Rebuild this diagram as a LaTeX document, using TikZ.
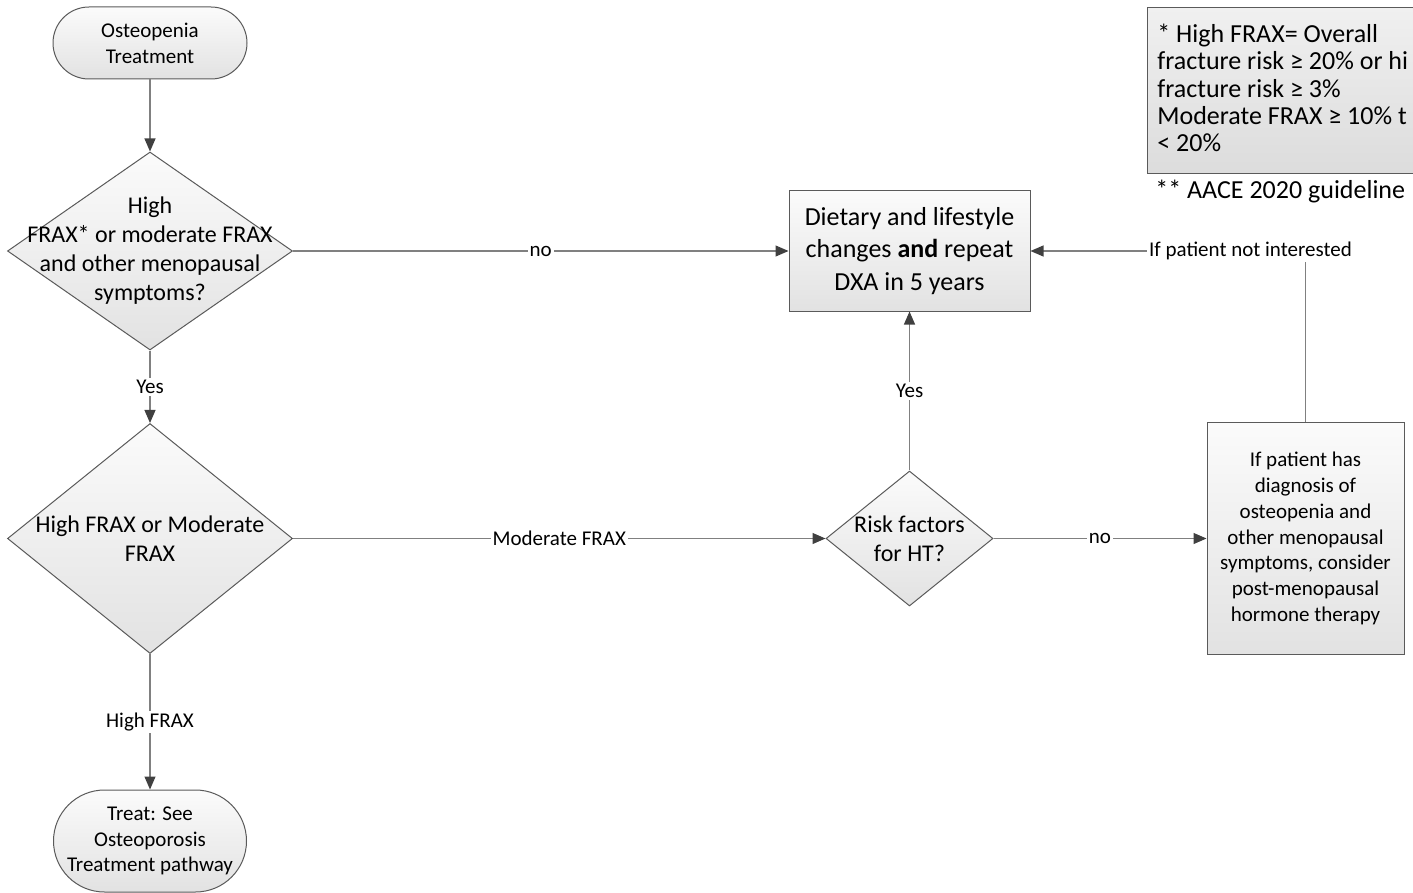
\documentclass[tikz,border=0pt]{standalone}
\usepackage{fontspec}
\setmainfont{Carlito}
\usetikzlibrary{arrows.meta,shapes.geometric}
\definecolor{bordercol}{HTML}{5A5A5A}
\definecolor{linecol}{HTML}{808080}
\definecolor{tipcol}{HTML}{404040}
\definecolor{filltop}{HTML}{FBFBFB}
\definecolor{fillbot}{HTML}{E2E2E2}
\definecolor{legtop}{HTML}{F0F0F0}
\definecolor{legbot}{HTML}{DCDCDC}
\begin{document}
\begin{tikzpicture}[x=0.5pt,y=-0.5pt,
  box/.style={draw=bordercol, line width=0.5pt, top color=filltop, bottom color=fillbot, inner sep=0pt, align=center},
  dia/.style={box, diamond},
  conn/.style={draw=linecol, line width=0.55pt, -{Triangle[length=6.5pt,width=5.5pt,fill=tipcol,color=tipcol]}},
  lbl/.style={fill=white, inner sep=1pt, font=\fontsize{10.5}{12.8}\selectfont, text=black},
  bigtxt/.style={font=\fontsize{13}{16.25}\selectfont, align=center, inner sep=0pt},
  midtxt/.style={font=\fontsize{12}{14.5}\selectfont, align=center, inner sep=0pt},
  smalltxt/.style={font=\fontsize{10.5}{12.9}\selectfont, align=center},
  legtxt/.style={font=\fontsize{13}{13.7}\selectfont, align=left, inner sep=0pt},
]
\useasboundingbox (0,0) rectangle (1413,893);
\clip (0,0) rectangle (1413,893);

% legend
\node[draw=bordercol, line width=0.5pt, top color=legtop, bottom color=legbot, anchor=north west,
      minimum width=150pt, minimum height=83pt, inner sep=0pt] (leg) at (1147,7) {};
\node[legtxt, anchor=west] (legt) at (1157,88) {* High FRAX= Overall\\fracture risk ≥ 20\% or hi\\fracture risk ≥ 3\%\\Moderate FRAX ≥ 10\% t\\< 20\%};
\node[legtxt, anchor=west] (aace) at (1155,192) {** AACE 2020 guideline};

% nodes
\node[box, smalltxt, minimum width=97pt, minimum height=36pt, rounded corners=18pt] (start) at (150,43) {Osteopenia\\Treatment};
\node[dia, minimum width=142.5pt, minimum height=99pt] (d1) at (150,251) {};
\node[midtxt] (d1t) at (d1.center) {High\\FRAX* or moderate FRAX\\and other menopausal\\symptoms?};
\node[dia, minimum width=142.5pt, minimum height=115pt] (d2) at (150,538.5) {};
\node[midtxt] (d2t) at (d2.center) {High FRAX or Moderate\\FRAX};
\node[box, smalltxt, minimum width=96.5pt, minimum height=51pt, rounded corners=25.5pt] (end) at (150,841) {Treat: See\\Osteoporosis\\Treatment pathway};
\node[box, bigtxt, minimum width=120.5pt, minimum height=60pt] (diet) at (909.5,251) {Dietary and lifestyle\\changes \textbf{and} repeat\\DXA in 5 years};
\node[dia, minimum width=83.5pt, minimum height=67.5pt] (risk) at (909.5,538.5) {};
\node[midtxt] (riskt) at (risk.center) {Risk factors\\for HT?};
\node[box, smalltxt, minimum width=98.5pt, minimum height=116pt] (hrt) at (1305.5,538.5) {If patient has\\diagnosis of\\osteopenia and\\other menopausal\\symptoms, consider\\post-menopausal\\hormone therapy};

% connectors
\draw[conn] (start) -- (d1);
\draw[conn] (d1) -- node[lbl]{Yes} (d2);
\draw[conn] (d2) -- node[lbl]{High FRAX} (end);
\draw[conn] (d1) -- node[lbl]{no} (diet);
\draw[conn] (d2) -- node[lbl]{Moderate FRAX} (risk);
\draw[conn] (risk) -- node[lbl]{Yes} (diet);
\draw[conn] (risk) -- node[lbl]{no} (hrt);
\draw[conn] (hrt.north) |- node[lbl, pos=0.6]{If patient not interested} (diet.east);
\end{tikzpicture}
\end{document}
